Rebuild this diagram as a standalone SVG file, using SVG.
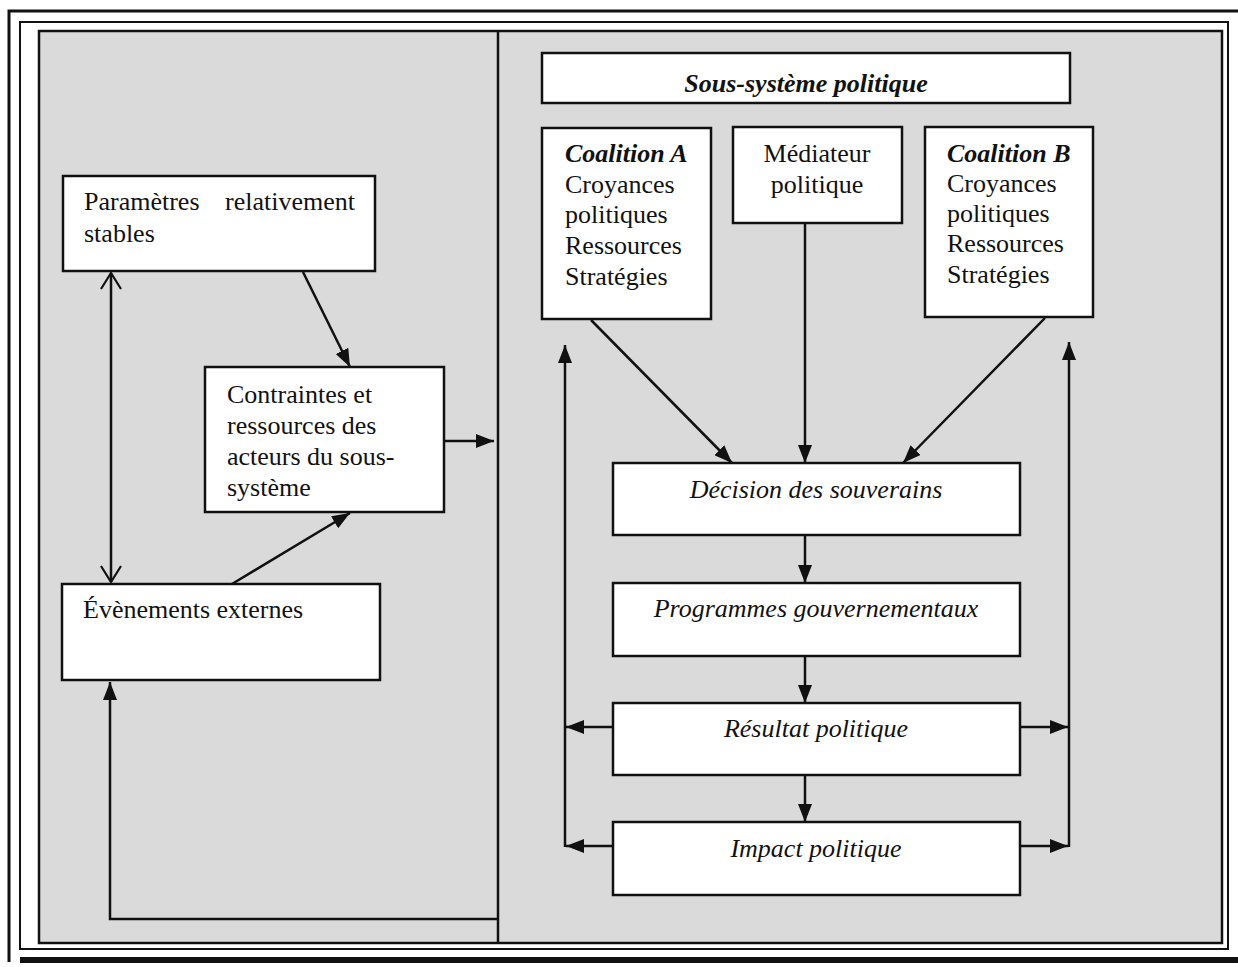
<svg xmlns="http://www.w3.org/2000/svg" width="1238" height="967" viewBox="0 0 1238 967">
  <defs>
    <marker id="solid" viewBox="0 0 18 14" refX="18" refY="7" markerWidth="18" markerHeight="14" markerUnits="userSpaceOnUse" orient="auto">
      <path d="M0,0 L18,7 L0,14 Z" fill="#111"/>
    </marker>
    <marker id="open" viewBox="0 0 18 22" refX="17" refY="11" markerWidth="18" markerHeight="22" markerUnits="userSpaceOnUse" orient="auto-start-reverse">
      <path d="M1,1 L17,11 L1,21" fill="none" stroke="#111" stroke-width="2.2"/>
    </marker>
    <style>
      .box { fill: #fff; stroke: #111; stroke-width: 2.5; }
      .t { font-family: "Liberation Serif", "Times New Roman", serif; font-size: 26px; fill: #111; }
      .it { font-style: italic; }
      .bi { font-style: italic; font-weight: bold; }
      .mid { text-anchor: middle; }
      .line { fill: none; stroke: #111; stroke-width: 2.5; }
      .arr { marker-end: url(#solid); }
    </style>
  </defs>

  <!-- page frames -->
  <rect x="0" y="0" width="1238" height="967" fill="#fff"/>
  <path d="M9,962 V11 H1238" fill="none" stroke="#111" stroke-width="3"/>
  <line x1="20" y1="960" x2="1238" y2="960" stroke="#111" stroke-width="6"/>
  <rect x="20" y="22" width="1208" height="927" fill="none" stroke="#111" stroke-width="2"/>
  <rect x="39" y="31" width="1183" height="912" fill="#dadada" stroke="#111" stroke-width="2.5"/>
  <line x1="498" y1="31" x2="498" y2="943" stroke="#111" stroke-width="2.5"/>

  <!-- connectors -->
  <g id="connectors">
    <line class="line" x1="111" y1="273" x2="111" y2="582" marker-start="url(#open)" marker-end="url(#open)"/>
    <line class="line arr" x1="303" y1="272" x2="350" y2="367"/>
    <line class="line arr" x1="232" y1="584" x2="350" y2="513"/>
    <line class="line arr" x1="445" y1="441" x2="494" y2="441"/>
    <path class="line arr" d="M497,919 H110 V682"/>

    <line class="line arr" x1="591" y1="320" x2="732" y2="463"/>
    <line class="line arr" x1="805" y1="223" x2="805" y2="463"/>
    <line class="line arr" x1="1045" y1="318" x2="903" y2="463"/>

    <line class="line arr" x1="805" y1="535" x2="805" y2="583"/>
    <line class="line arr" x1="805" y1="656" x2="805" y2="703"/>
    <line class="line arr" x1="805" y1="775" x2="805" y2="822"/>

    <line class="line arr" x1="565" y1="847" x2="565" y2="345"/>
    <line class="line arr" x1="1069" y1="847" x2="1069" y2="342"/>
    <line class="line arr" x1="613" y1="727" x2="566" y2="727"/>
    <line class="line arr" x1="613" y1="846" x2="566" y2="846"/>
    <line class="line arr" x1="1020" y1="727" x2="1068" y2="727"/>
    <line class="line arr" x1="1020" y1="846" x2="1068" y2="846"/>
  </g>

  <!-- left side: external context -->
  <g id="parametres">
    <rect class="box" x="63" y="176" width="312" height="95"/>
    <text class="t" x="84" y="210">Paramètres</text>
    <text class="t" x="355" y="210" text-anchor="end">relativement</text>
    <text class="t" x="84" y="242">stables</text>
  </g>
  <g id="contraintes">
    <rect class="box" x="205" y="367" width="239" height="145"/>
    <text class="t" x="227" y="403">Contraintes et</text>
    <text class="t" x="227" y="434">ressources des</text>
    <text class="t" x="227" y="465">acteurs du sous-</text>
    <text class="t" x="227" y="496">système</text>
  </g>
  <g id="evenements">
    <rect class="box" x="62" y="584" width="318" height="96"/>
    <text class="t" x="83" y="618">Évènements externes</text>
  </g>

  <!-- right side: policy subsystem -->
  <g id="sous-systeme">
    <rect class="box" x="542" y="53" width="528" height="50"/>
    <text class="t bi mid" x="806" y="92">Sous-système politique</text>
  </g>
  <g id="coalition-a">
    <rect class="box" x="542" y="128" width="169" height="191"/>
    <text class="t" x="565" y="162"><tspan class="bi">Coalition A</tspan></text>
    <text class="t" x="565" y="193">Croyances</text>
    <text class="t" x="565" y="223">politiques</text>
    <text class="t" x="565" y="254">Ressources</text>
    <text class="t" x="565" y="285">Stratégies</text>
  </g>
  <g id="mediateur">
    <rect class="box" x="733" y="127" width="169" height="96"/>
    <text class="t mid" x="817" y="162">Médiateur</text>
    <text class="t mid" x="817" y="193">politique</text>
  </g>
  <g id="coalition-b">
    <rect class="box" x="925" y="127" width="168" height="190"/>
    <text class="t" x="947" y="162"><tspan class="bi">Coalition B</tspan></text>
    <text class="t" x="947" y="192">Croyances</text>
    <text class="t" x="947" y="222">politiques</text>
    <text class="t" x="947" y="252">Ressources</text>
    <text class="t" x="947" y="283">Stratégies</text>
  </g>
  <g id="decision">
    <rect class="box" x="613" y="463" width="407" height="72"/>
    <text class="t it mid" x="816" y="498">Décision des souverains</text>
  </g>
  <g id="programmes">
    <rect class="box" x="613" y="583" width="407" height="73"/>
    <text class="t it mid" x="816" y="617">Programmes gouvernementaux</text>
  </g>
  <g id="resultat">
    <rect class="box" x="613" y="703" width="407" height="72"/>
    <text class="t it mid" x="816" y="737">Résultat politique</text>
  </g>
  <g id="impact">
    <rect class="box" x="613" y="822" width="407" height="73"/>
    <text class="t it mid" x="816" y="857">Impact politique</text>
  </g>
</svg>
